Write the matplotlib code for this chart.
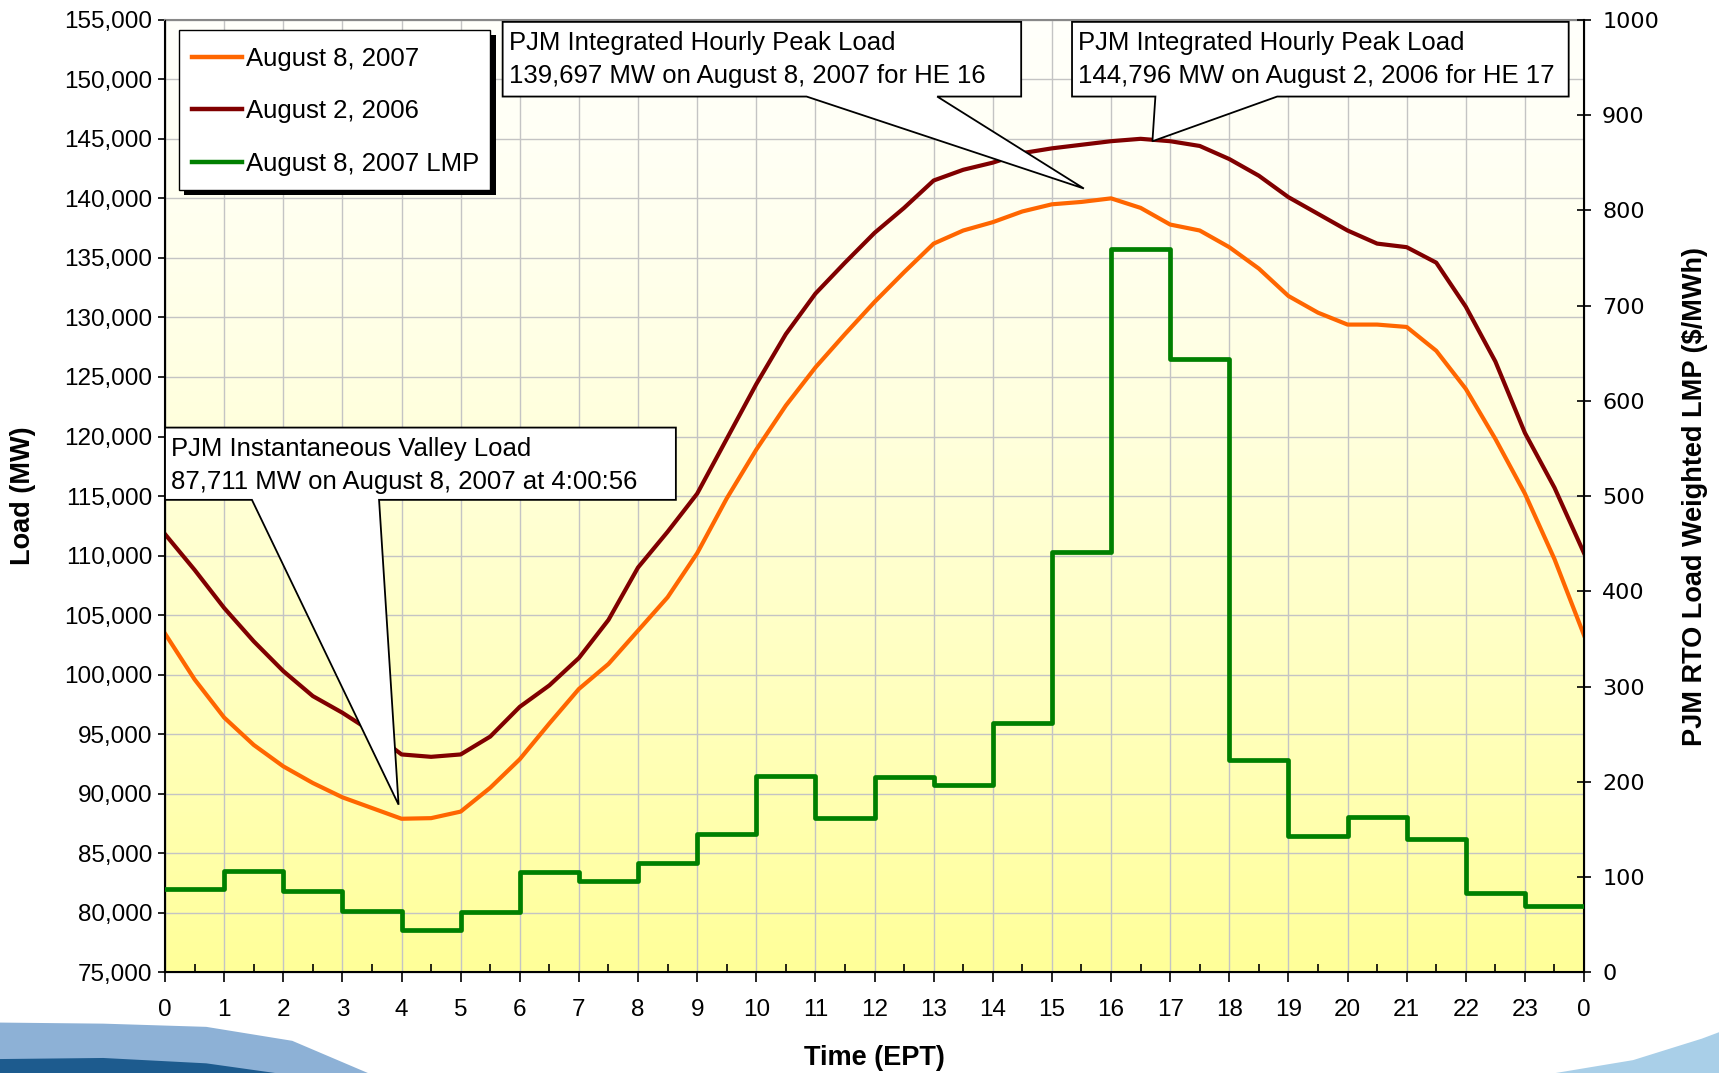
import numpy as np
import matplotlib
matplotlib.use("Agg")
import matplotlib.pyplot as plt
from matplotlib.patches import Polygon, Rectangle
from matplotlib.lines import Line2D
from matplotlib.colors import LinearSegmentedColormap

plt.rcParams['font.family'] = ['Liberation Sans', 'DejaVu Sans']

# half-hour readings of the two load curves (MW)
hours = np.arange(0, 24.5, 0.5)
load_2007 = [103450, 99600, 96400, 94100, 92300, 90900, 89700, 88800, 87900, 87950,
             88500, 90500, 92900, 95900, 98800, 100900, 103700, 106500, 110200, 114800,
             118900, 122600, 125800, 128600, 131300, 133800, 136200, 137300, 138000, 138900,
             139500, 139700, 140000, 139200, 137800, 137300, 135900, 134100, 131800, 130400,
             129400, 129400, 129200, 127200, 124000, 119800, 115200, 109700, 103300]
load_2006 = [111800, 108800, 105600, 102800, 100300, 98200, 96800, 95200, 93300, 93100,
             93300, 94800, 97300, 99100, 101400, 104600, 109000, 112000, 115200, 119800,
             124400, 128600, 132000, 134600, 137100, 139200, 141500, 142400, 143000, 143800,
             144200, 144500, 144800, 145000, 144800, 144400, 143300, 141900, 140100, 138700,
             137300, 136200, 135900, 134600, 130900, 126300, 120300, 115700, 110200]

# hourly LMP ($/MWh), hour ending 1..24
lmp_2007 = [87, 106, 85, 64, 44, 63, 105, 96, 115, 145, 206, 162,
            205, 197, 262, 441, 759, 644, 223, 143, 163, 140, 83, 70]

valley_mw, valley_hr = 87711, 4.0
peak_2007, peak_2007_hr = 139697, 15.5
peak_2006, peak_2006_hr = 144796, 16.7

xlabels = [str(h % 24) for h in range(25)]

fig = plt.figure(figsize=(17.19, 10.73), dpi=100)
fig.patch.set_facecolor('white')

# blue swoosh of the slide template
fig.patches.append(Polygon([[0, 0], [0, 0.047], [0.06, 0.046], [0.12, 0.043], [0.17, 0.03],
                            [0.214, 0.0], ], closed=True, transform=fig.transFigure,
                           facecolor='#8db1d6', edgecolor='none', zorder=0))
fig.patches.append(Polygon([[0, 0], [0, 0.013], [0.06, 0.014], [0.12, 0.009], [0.16, 0.0]],
                           closed=True, transform=fig.transFigure,
                           facecolor='#1d5b8e', edgecolor='none', zorder=0))
fig.patches.append(Polygon([[0.905, 0], [0.95, 0.012], [0.99, 0.032], [1, 0.038], [1, 0]],
                           closed=True, transform=fig.transFigure,
                           facecolor='#a9cfe8', edgecolor='none', zorder=0))

ax = fig.add_axes([0.096, 0.0938, 0.8255, 0.8878])
ax2 = ax.twinx()

# background gradient
grad = np.linspace(0, 1, 256)[:, None] ** 1.4
cmap = LinearSegmentedColormap.from_list('bg', ['#fffffa', '#ffff99'])
ax.imshow(grad, extent=[0, 24, 75000, 155000], aspect='auto', cmap=cmap,
          origin='upper', zorder=0)

ax.plot(hours, load_2007, color='#ff6600', lw=3.0, zorder=3)
ax.plot(hours, load_2006, color='#800000', lw=3.0, zorder=3)

ax2.plot(np.arange(25), lmp_2007 + [lmp_2007[-1]], drawstyle='steps-post',
         color='#008000', lw=3.4, zorder=3)

ax.set_xlim(0, 24)
ax.set_ylim(75000, 155000)
ax2.set_ylim(0, 1000)

ax.set_xticks(range(25))
ax.set_xticklabels(xlabels)
ax.set_xticks(np.arange(0.5, 24, 1), minor=True)
ax.set_yticks(range(75000, 155001, 5000))
ax.set_yticklabels([f'{v:,}' for v in range(75000, 155001, 5000)])
ax2.set_yticks(range(0, 1001, 100))

ax.grid(True, which='major', color='#c4c4c4', lw=1.0)
ax.set_axisbelow(True)

ax.tick_params(axis='x', which='major', direction='out', length=7, width=1.2,
               labelsize=17.5, pad=12)
ax.tick_params(axis='x', which='minor', direction='in', length=6, width=1.2)
ax.tick_params(axis='y', direction='out', length=5, width=1.2, labelsize=17.5, pad=4)
ax2.tick_params(axis='y', direction='inout', length=10, width=1.2, pad=8)
for t in ax2.get_yticklabels():
    t.set_fontfamily('DejaVu Sans')
    t.set_fontsize(16)

for s in ['left', 'bottom']:
    ax.spines[s].set_linewidth(1.5)
ax.spines['top'].set_color('#888888')
ax.spines['top'].set_linewidth(1.5)
ax2.spines['right'].set_linewidth(1.5)
ax2.spines['top'].set_visible(False)

ax.set_xlabel('Time (EPT)', fontsize=19.5, fontweight='bold')
ax.xaxis.set_label_coords(0.5, -0.076)
ax.set_ylabel('Load (MW)', fontsize=19.5, fontweight='bold')
ax.yaxis.set_label_coords(-0.091, 0.5)
ax2.set_ylabel('PJM RTO Load Weighted LMP ($/MWh)', fontsize=19.5, fontweight='bold')
ax2.yaxis.set_label_coords(1.069, 0.5)


def callout(box, base, tip, lines):
    x0, x1, y0, y1 = box
    pts = [[x0, y1], [x1, y1], [x1, y0], [base[1], y0], tip, [base[0], y0], [x0, y0]]
    ax2.add_patch(Polygon(pts, closed=True, transform=ax.transData, facecolor='white',
                          edgecolor='black', lw=1.3, zorder=10))
    ax2.text(x0 + 0.1, y1 - 750, lines, transform=ax.transData, fontsize=18.5,
             va='top', ha='left', linespacing=1.5, zorder=11)


callout((0.0, 8.64, 114680, 120750), (1.47, 3.62), (valley_hr - 0.05, valley_mw + 1370),
        'PJM Instantaneous Valley Load\n87,711 MW on August 8, 2007 at 4:00:56')
callout((5.71, 14.48, 148550, 154820), (10.85, 13.06), (peak_2007_hr + 0.04, peak_2007 + 1130),
        'PJM Integrated Hourly Peak Load\n139,697 MW on August 8, 2007 for HE 16')
callout((15.34, 23.74, 148550, 154820), (16.75, 18.81), (peak_2006_hr, peak_2006),
        'PJM Integrated Hourly Peak Load\n144,796 MW on August 2, 2006 for HE 17')

# legend with hard black shadow
ax2.add_patch(Rectangle((0.0135, 0.8163), 0.2195, 0.168, transform=ax.transAxes,
                        facecolor='black', edgecolor='none', zorder=12))
ax2.add_patch(Rectangle((0.0097, 0.8216), 0.2195, 0.168, transform=ax.transAxes,
                        facecolor='white', edgecolor='black', lw=1.0, zorder=13))
handles = [Line2D([], [], color='#ff6600', lw=3.2),
           Line2D([], [], color='#800000', lw=3.2),
           Line2D([], [], color='#008000', lw=3.2)]
leg = ax2.legend(handles, ['August 8, 2007', 'August 2, 2006', 'August 8, 2007 LMP'],
                 loc='upper left', bbox_to_anchor=(0.1117, 0.956),
                 bbox_transform=fig.transFigure, frameon=False, fontsize=18.5,
                 handlelength=1.95, handletextpad=0.17, labelspacing=1.1,
                 borderpad=0, borderaxespad=0)
leg.set_zorder(14)

fig.savefig('out.png', dpi=100)
